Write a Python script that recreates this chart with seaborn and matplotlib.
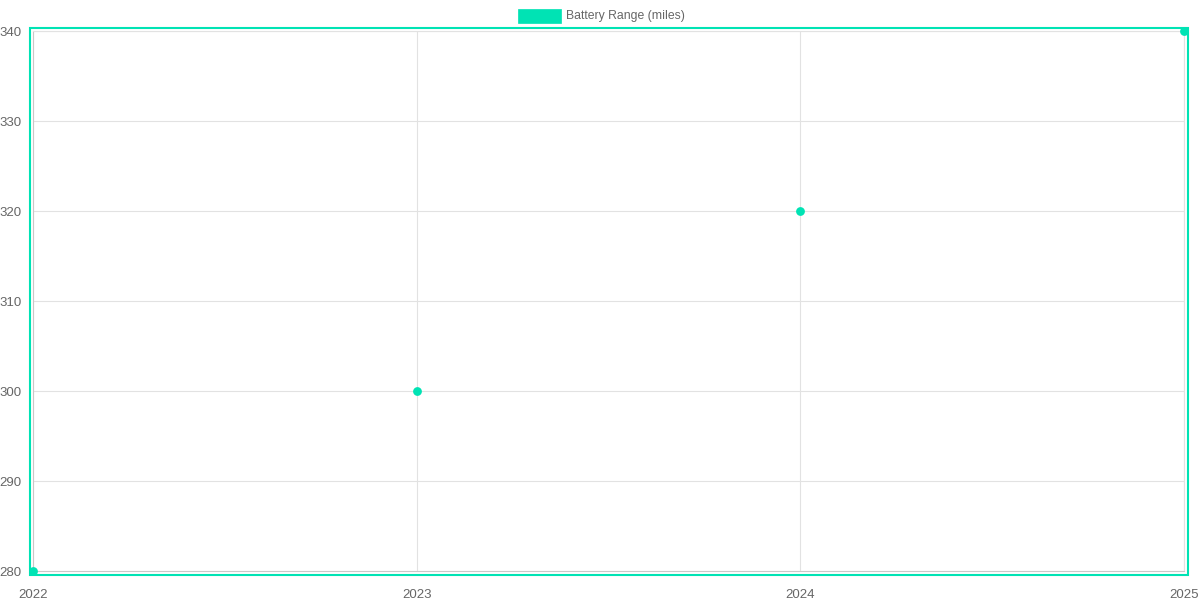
import numpy as np
import pandas as pd
import matplotlib
matplotlib.use('Agg')
import matplotlib.pyplot as plt
import seaborn as sns
from matplotlib.patches import Rectangle

years = [2022, 2023, 2024, 2025]
battery_range = [280, 300, 320, 340]
y_ticks = [280, 290, 300, 310, 320, 330, 340]
series_label = 'Battery Range (miles)'

teal = '#00e3b4'
grid_col = '#e2e2e2'
text_col = '#666666'

df = pd.DataFrame({'year': years, 'range': battery_range})

sns.set_style('white')
plt.rcParams['font.family'] = ['Liberation Sans', 'DejaVu Sans']

fig = plt.figure(figsize=(12, 6), dpi=100)
W, H = 1200, 600
x0, x1, y0, y1 = 33, 1184, 31, 571
ax = fig.add_axes([x0 / W, 1 - y1 / H, (x1 - x0) / W, (y1 - y0) / H])

sns.scatterplot(data=df, x='year', y='range', ax=ax, color=teal, s=40,
                edgecolor=teal, linewidth=0, zorder=5, clip_on=False, legend=False)

ax.set_xlim(2022, 2025)
ax.set_ylim(280, 340)
ax.set_xticks(years)
ax.set_xticklabels([str(y) for y in years])
ax.set_yticks(y_ticks)
ax.set_xlabel('')
ax.set_ylabel('')
ax.grid(True, color=grid_col, linewidth=0.8)
ax.tick_params(axis='both', colors='#cccccc', labelcolor=text_col, labelsize=9.5,
               length=4, width=0.8)
ax.tick_params(axis='y', pad=4)
ax.tick_params(axis='x', pad=9)
for side in ['top', 'right']:
    ax.spines[side].set_color(grid_col)
    ax.spines[side].set_linewidth(0.8)
for side in ['left', 'bottom']:
    ax.spines[side].set_color('#c8c8c8')
    ax.spines[side].set_linewidth(0.8)

# teal border around the chart area
fig.patches.append(Rectangle((30 / W, 1 - 575 / H), (1188 - 30) / W, (575 - 28) / H,
                             transform=fig.transFigure, fill=False,
                             edgecolor=teal, linewidth=1.5, zorder=10))

# legend
fig.patches.append(Rectangle((518 / W, 1 - 23 / H), 43 / W, 14 / H,
                             transform=fig.transFigure, facecolor=teal,
                             edgecolor=teal, linewidth=0.5))
fig.text(566 / W, 1 - 16 / H, series_label, ha='left', va='center',
         fontsize=8.8, color=text_col)

fig.savefig('out.png', dpi=100)
